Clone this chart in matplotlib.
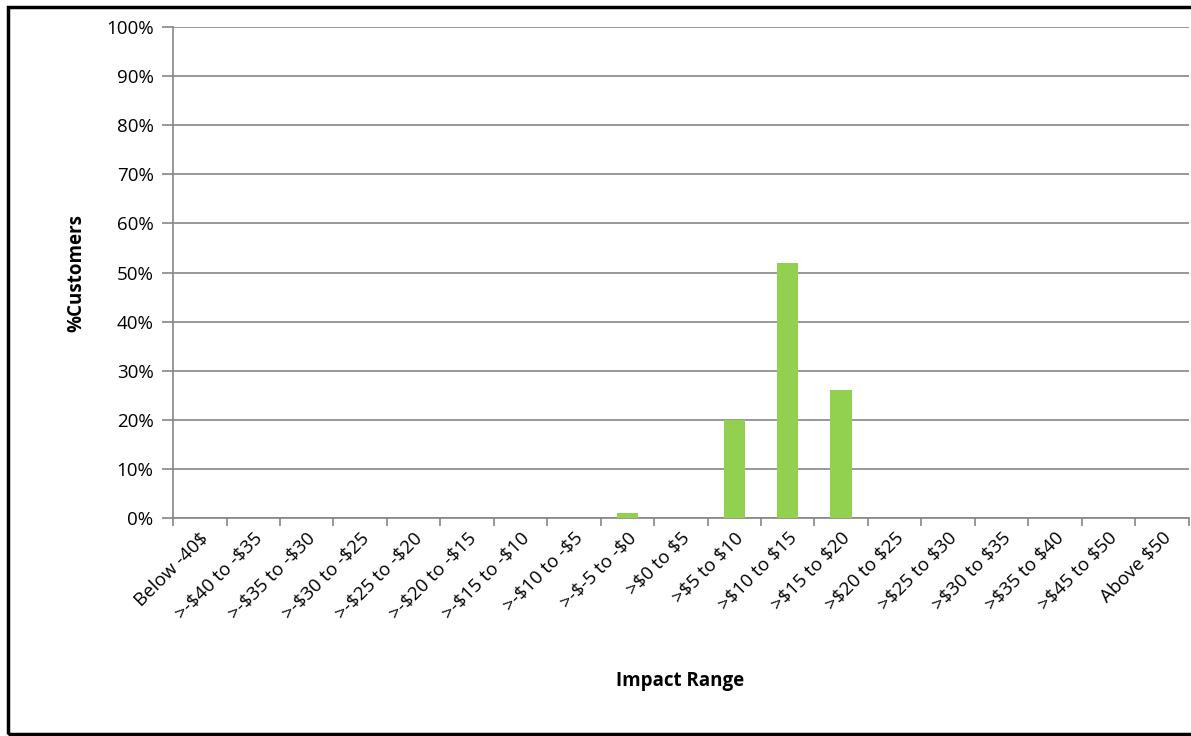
import matplotlib.pyplot as plt
from matplotlib.patches import Rectangle
import numpy as np

categories = ['Below -40$', '>-$40 to -$35', '>-$35 to -$30', '>-$30 to -$25',
              '>-$25 to -$20', '>-$20 to -$15', '>-$15 to -$10', '>-$10 to -$5',
              '>-$-5 to -$0', '>$0 to $5', '>$5 to $10', '>$10 to $15',
              '>$15 to $20', '>$20 to $25', '>$25 to $30', '>$30 to $35',
              '>$35 to $40', '>$45 to $50', 'Above $50']
pct_customers = [0, 0, 0, 0, 0, 0, 0, 0, 1, 0, 20, 52, 26, 0, 0, 0, 0, 0, 0]

plt.rcParams['font.family'] = ['Open Sans', 'DejaVu Sans']
plt.rcParams['text.parse_math'] = False

fig = plt.figure(figsize=(11.91, 7.36), dpi=100)
ax = fig.add_axes([0.1453, 0.2962, 0.8527, 0.6671])

x = np.arange(len(categories))
ax.bar(x, pct_customers, width=0.4, color='#92D050', zorder=3)

grid_col = '#868686'
fs = 13.5
ax.set_ylim(0, 100)
ax.set_xlim(-0.5, len(categories) - 0.5)
ax.set_yticks(np.arange(0, 101, 10))
ax.set_yticklabels([f'{v}%' for v in range(0, 101, 10)], fontsize=fs)
ax.yaxis.grid(True, color=grid_col, linewidth=1.2, zorder=0)
ax.tick_params(axis='y', direction='out', length=8, color=grid_col, width=1.2, pad=6)

ax.set_xticks(x)
ax.set_xticklabels(categories, rotation=45, ha='right', rotation_mode='anchor', fontsize=fs)
ax.tick_params(axis='x', which='major', length=0, pad=8)
ax.set_xticks(np.arange(-0.5, len(categories), 1), minor=True)
ax.tick_params(axis='x', which='minor', direction='out', length=6, color=grid_col, width=1.2)

for side in ['top', 'right']:
    ax.spines[side].set_visible(False)
for side in ['left', 'bottom']:
    ax.spines[side].set_color(grid_col)
    ax.spines[side].set_linewidth(1.2)

ax.set_ylabel('%Customers', fontsize=fs, fontweight='bold', labelpad=14)
fig.text(0.571, 0.075, 'Impact Range', fontsize=fs, fontweight='bold', ha='center', va='center')

# outer chart frame
fig.patches.append(Rectangle((0.007, 0.003), 0.995, 0.987, transform=fig.transFigure,
                             fill=False, edgecolor='black', linewidth=2.5))

fig.savefig('out.png', dpi=100)
